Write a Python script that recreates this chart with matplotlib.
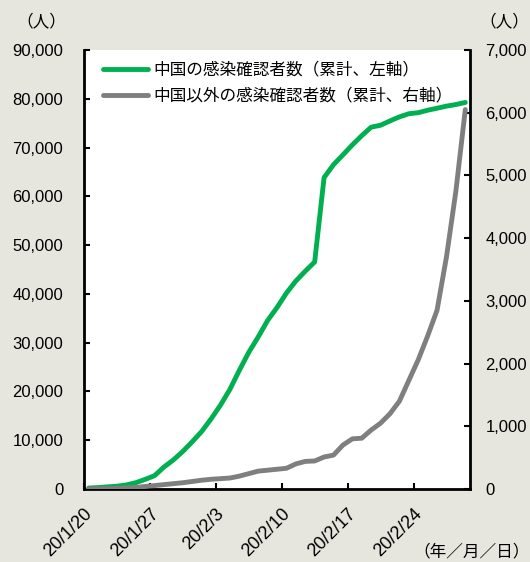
import numpy as np
import matplotlib
matplotlib.use("Agg")
import matplotlib.pyplot as plt

plt.rcParams["font.family"] = ["Liberation Sans", "Noto Sans CJK JP", "DejaVu Sans"]

# ------------------------------------------------------------------ data
# daily, 2020-01-20 .. 2020-02-29 (41 days)
china = [
    198, 291, 440, 571, 830, 1287, 1975, 2744, 4515, 5974,
    7711, 9692, 11791, 14380, 17205, 20438, 24324, 28018, 31161, 34546,
    37198, 40171, 42638, 44653, 46550, 63851, 66492, 68500, 70548, 72436,
    74185, 74576, 75465, 76288, 76936, 77150, 77658, 78064, 78497, 78824,
    79251,
]
outside = [
    3, 4, 7, 10, 16, 25, 40, 55, 70, 85,
    100, 120, 140, 155, 165, 175, 205, 245, 285, 300,
    315, 330, 400, 440, 447, 510, 540, 700, 800, 810,
    940, 1050, 1200, 1400, 1730, 2060, 2440, 2850, 3700, 4750,
    6050,
]
tick_labels = ["20/1/20", "20/1/27", "20/2/3", "20/2/10", "20/2/17", "20/2/24"]

label_china = "中国の感染確認者数（累計、左軸）"
label_outside = "中国以外の感染確認者数（累計、右軸）"

GREEN = "#00b050"
GRAY = "#7f7f7f"
BG = "#e6e6df"

# ------------------------------------------------------------------ plot
fig = plt.figure(figsize=(5.30, 5.62), dpi=100, facecolor=BG)
ax = fig.add_axes([0.1585, 0.1299, 0.7283, 0.7811])
ax2 = ax.twinx()

days = np.arange(len(china))
ax.plot(days, china, color=GREEN, lw=3.5, solid_capstyle="round",
        solid_joinstyle="round", zorder=3)
ax2.plot(days, outside, color=GRAY, lw=3.5, solid_capstyle="round",
         solid_joinstyle="round", zorder=3)

ax.set_xlim(-0.5, len(china) - 0.5)
ax.set_ylim(0, 90000)
ax2.set_ylim(0, 7000)

ax.set_yticks(np.arange(0, 90001, 10000))
ax.set_yticklabels([f"{v:,}" for v in range(0, 90001, 10000)])
ax2.set_yticks(np.arange(0, 7001, 1000))
ax2.set_yticklabels([f"{v:,}" for v in range(0, 7001, 1000)])

ax.set_xticks(np.arange(len(tick_labels)) * 7 - 0.5)
ax.set_xticklabels(tick_labels, rotation=45, ha="right", va="top",
                   rotation_mode="anchor", fontsize=13)

for a in (ax, ax2):
    a.spines["top"].set_visible(False)
    for s in ("left", "right", "bottom"):
        a.spines[s].set_linewidth(2.0)
        a.spines[s].set_color("black")
    a.tick_params(direction="in", length=4, width=1.5, labelsize=12,
                  colors="black")
ax.tick_params(axis="x", labelsize=13, pad=12)
ax.tick_params(axis="y", pad=15)
ax2.tick_params(axis="y", pad=11)
ax2.spines["left"].set_visible(False)
ax2.spines["bottom"].set_visible(False)
ax.spines["right"].set_visible(False)
ax.set_facecolor("white")

# legend with handles from both axes
h1 = ax.lines[0]
h2 = ax2.lines[0]
ax2.legend([h1, h2], [label_china, label_outside], loc="upper left",
           bbox_to_anchor=(0.02, 1.0), frameon=False, fontsize=12,
           handlelength=2.7, handletextpad=0.3, labelspacing=0.6,
           borderaxespad=0.3)

fig.text(0.03, 0.962, "（人）", fontsize=12, ha="left", va="center")
fig.text(0.998, 0.962, "（人）", fontsize=12, ha="right", va="center")
fig.text(0.999, 0.018, "（年／月／日）", fontsize=12, ha="right", va="center")

fig.savefig("out.png", dpi=100, facecolor=BG)
